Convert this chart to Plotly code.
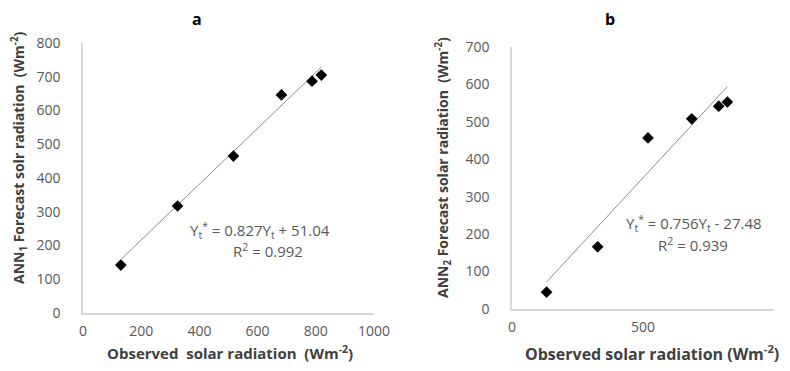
import plotly.graph_objects as go

# Data
observed_a = [130, 325, 517, 682, 787, 819]
forecast_a = [142, 317, 465, 646, 687, 705]
observed_b = [132, 327, 519, 686, 789, 822]
forecast_b = [45, 166, 457, 508, 542, 553]
slope_a, intercept_a = 0.827, 51.04
slope_b, intercept_b = 0.756, -27.48
xticks_a = [0, 200, 400, 600, 800, 1000]
yticks_a = [0, 100, 200, 300, 400, 500, 600, 700, 800]
xticks_b = [0, 500, 1000]
yticks_b = [0, 100, 200, 300, 400, 500, 600, 700]

# page body has an 8px default margin
OFF = 8
W, H = 790 - OFF, 371 - OFF
def px(x): return (x - OFF) / W
def py(y): return 1 - (y - OFF) / H

tick_font = dict(family="Open Sans, sans-serif", size=14, color="#595959")
axis_col = "#d9d9d9"

fig = go.Figure()

def trend(xs, m, c):
    xx = [min(xs), max(xs)]
    return xx, [m * v + c for v in xx]

tx, ty = trend(observed_a, slope_a, intercept_a)
fig.add_trace(go.Scatter(x=tx, y=ty, mode="lines", line=dict(color="#8c8c8c", width=1),
                         xaxis="x", yaxis="y", showlegend=False))
fig.add_trace(go.Scatter(x=observed_a, y=forecast_a, mode="markers",
                         marker=dict(symbol="diamond", size=9, color="black"),
                         xaxis="x", yaxis="y", showlegend=False))
tx, ty = trend(observed_b, slope_b, intercept_b)
fig.add_trace(go.Scatter(x=tx, y=ty, mode="lines", line=dict(color="#8c8c8c", width=1),
                         xaxis="x2", yaxis="y2", showlegend=False))
fig.add_trace(go.Scatter(x=observed_b, y=forecast_b, mode="markers",
                         marker=dict(symbol="diamond", size=9, color="black"),
                         xaxis="x2", yaxis="y2", showlegend=False))

common = dict(showgrid=False, zeroline=False, showline=True, linecolor=axis_col, linewidth=1.5,
              ticks="", tickfont=tick_font, automargin=False)

fig.update_layout(
    width=W, height=H,
    margin=dict(l=0, r=0, t=0, b=0),
    paper_bgcolor="white", plot_bgcolor="white",
    xaxis=dict(domain=[px(83), px(374)], range=[0, 1000], tickvals=xticks_a,
               anchor="y", ticklabelstandoff=4, **common),
    yaxis=dict(domain=[py(313), py(43)], range=[0, 800], tickvals=yticks_a,
               anchor="x", ticklabelstandoff=18, **common),
    xaxis2=dict(domain=[px(512), px(774)], range=[0, 1000], tickvals=xticks_b,
                anchor="y2", ticklabelstandoff=4, **common),
    yaxis2=dict(domain=[py(309), py(47)], range=[0, 700], tickvals=yticks_b,
                anchor="x2", ticklabelstandoff=18, **common),
)

ytitle_font = dict(family="Open Sans, sans-serif", size=14, color="#404040")
eq_font = dict(family="Open Sans, sans-serif", size=15, color="#595959")

annos = [
    dict(x=px(197), y=py(19), text="<b>a</b>", font=dict(family="Open Sans, sans-serif", size=16, color="black")),
    dict(x=px(610), y=py(19), text="<b>b</b>", font=dict(family="Open Sans, sans-serif", size=16, color="black")),
    dict(x=px(230), y=py(352), text="<b>Observed  solar radiation  (Wm<sup>-2</sup>)</b>",
         font=dict(family="Open Sans, sans-serif", size=15, color="#404040")),
    dict(x=px(652), y=py(353), text="<b>Observed solar radiation (Wm<sup>-2</sup>)</b>",
         font=dict(family="Open Sans, sans-serif", size=16, color="#404040")),
    dict(x=px(19), y=py(158), text="<b>ANN<sub>1</sub> Forecast solr radiation  (Wm<sup>-2</sup>)</b>",
         textangle=-90, font=ytitle_font),
    dict(x=px(443), y=py(168), text="<b>ANN<sub>2</sub> Forecast solar radiation  (Wm<sup>-2</sup>)</b>",
         textangle=-90, font=ytitle_font),
    dict(x=px(260), y=py(230), text="Y<sub>t</sub><sup>*</sup> = 0.827Y<sub>t</sub> + 51.04", font=eq_font),
    dict(x=px(268), y=py(250), text="R<sup>2</sup> = 0.992", font=eq_font),
    dict(x=px(694), y=py(223), text="Y<sub>t</sub><sup>*</sup> = 0.756Y<sub>t</sub> - 27.48", font=eq_font),
    dict(x=px(693), y=py(244), text="R<sup>2</sup> = 0.939", font=eq_font),
]
for a in annos:
    a.update(xref="paper", yref="paper", showarrow=False, xanchor="center", yanchor="middle")
fig.update_layout(annotations=annos)

fig.write_html("out.html")
